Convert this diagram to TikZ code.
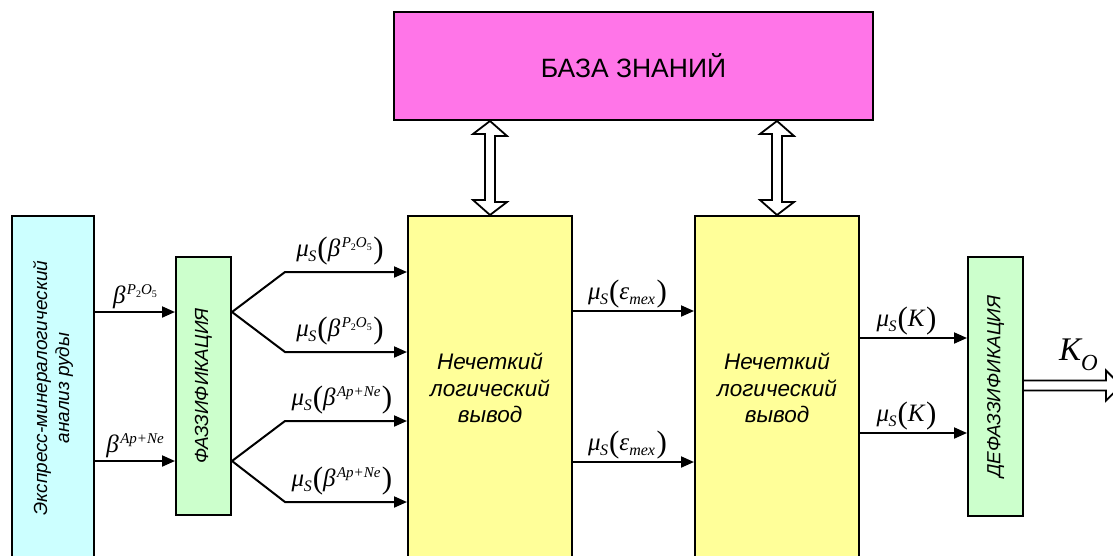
\documentclass[tikz,border=0pt]{standalone}
\usepackage{fontspec}
\setmainfont{Liberation Sans}
\newfontfamily\tms{Liberation Serif}
\usetikzlibrary{arrows.meta}
\definecolor{cyanbox}{HTML}{CCFFFF}
\definecolor{greenbox}{HTML}{CCFFCC}
\definecolor{yelbox}{HTML}{FFFF99}
\definecolor{kbbox}{HTML}{FF75E8}
\newcommand\sz[1]{\fontsize{#1}{#1}\selectfont}
\newcommand\mus{μ\kern-0.5pt\raisebox{-5pt}{\sz{16}S}}
\newcommand\lpar{\kern1pt\raisebox{-2.5pt}{\sz{31}\upshape(}}
\newcommand\rpar{\kern1.5pt\raisebox{-2.5pt}{\sz{31}\upshape)}}
\newcommand\bP{β\kern1.5pt\raisebox{9pt}{\sz{15}P\raisebox{-3pt}{\sz{10}\upshape 2}O\raisebox{-3pt}{\sz{10}\upshape 5}}}
\newcommand\bA{β\kern1.5pt\raisebox{9pt}{\sz{15}Ap+Ne}}
\newcommand\eps{ε\raisebox{-5pt}{\sz{16}mex}}
\begin{document}
\begin{tikzpicture}[x=1pt,y=-1pt,
  box/.style={draw, line width=2pt, inner sep=0pt},
  vtext/.style={rotate=90, align=center, font=\itshape\fontsize{19}{22}\selectfont},
  ytext/.style={align=center, font=\itshape\fontsize{22.5}{26.5}\selectfont},
  arr/.style={line width=2pt, -{Triangle[length=13pt,width=11pt]}},
  lbl/.style={font=\tms\itshape\sz{25}, inner sep=1.5pt, above},
  dbl/.style={line width=1.8pt, fill=white, line join=miter}]
\useasboundingbox (0,0) rectangle (1113,555);
% boxes
\node[box, fill=cyanbox, minimum width=82pt, minimum height=344pt] (exp) at (53,388) {};
\node[vtext] (expt) at (exp.center) {Экспресс-минералогический\\анализ руды};
\node[box, fill=greenbox, minimum width=55pt, minimum height=258pt] (f1) at (203.5,386) {};
\node[vtext] (f1t) at (f1.center) {ФАЗЗИФИКАЦИЯ};
\node[box, fill=kbbox, minimum width=479pt, minimum height=108pt, font=\sz{26.5}] (kb) at (633.5,66) {БАЗА ЗНАНИЙ};
\node[box, fill=yelbox, minimum width=164pt, minimum height=344pt] (y1) at (490,388) {};
\node[ytext] (y1t) at (y1.center) {Нечеткий\\логический\\вывод};
\node[box, fill=yelbox, minimum width=164pt, minimum height=344pt] (y2) at (777,388) {};
\node[ytext] (y2t) at (y2.center) {Нечеткий\\логический\\вывод};
\node[box, fill=greenbox, minimum width=55pt, minimum height=259pt] (f2) at (995.5,386.5) {};
\node[vtext] (f2t) at (f2.center) {ДЕФАЗЗИФИКАЦИЯ};
% row coordinates
\coordinate (r1) at (0,312);
\coordinate (r2) at (0,461);
\coordinate (fa) at (285,272);
\coordinate (fb) at (285,352);
\coordinate (fc) at (285,421);
\coordinate (fd) at (285,502);
\coordinate (m1) at (0,311);
\coordinate (m2) at (0,462);
\coordinate (k1) at (0,338);
\coordinate (k2) at (0,433);
% inputs
\draw[arr] (exp.east |- r1) -- node[lbl, yshift=1pt]{\bP} (f1.west |- r1);
\draw[arr] (exp.east |- r2) -- node[lbl, yshift=1pt]{\bA} (f1.west |- r2);
% forks
\draw[arr] (f1.east |- r1) -- (fa) -- node[lbl, xshift=-6pt, yshift=4pt]{\mus\lpar\bP\rpar} (y1.west |- fa);
\draw[arr] (f1.east |- r1) -- (fb) -- node[lbl, xshift=-6pt, yshift=4pt]{\mus\lpar\bP\rpar} (y1.west |- fb);
\draw[arr] (f1.east |- r2) -- (fc) -- node[lbl, xshift=-4pt, yshift=4pt]{\mus\lpar\bA\rpar} (y1.west |- fc);
\draw[arr] (f1.east |- r2) -- (fd) -- node[lbl, xshift=-4pt, yshift=4pt]{\mus\lpar\bA\rpar} (y1.west |- fd);
% middle
\draw[arr] (y1.east |- m1) -- node[lbl, xshift=-6pt]{\mus\lpar\eps\rpar} (y2.west |- m1);
\draw[arr] (y1.east |- m2) -- node[lbl, xshift=-6pt]{\mus\lpar\eps\rpar} (y2.west |- m2);
% right
\draw[arr] (y2.east |- k1) -- node[lbl, xshift=-7pt]{\mus\lpar K\rpar} (f2.west |- k1);
\draw[arr] (y2.east |- k2) -- node[lbl, xshift=-7pt]{\mus\lpar K\rpar} (f2.west |- k2);
% knowledge base double arrows
\coordinate (d1) at (y1.north |- kb.south);
\coordinate (d2) at (y2.north |- kb.south);
\draw[dbl] (d1) -- ++(17,15) -- ++(-12,0) -- ++(0,66) -- ++(12,0) -- (y1.north) -- ++(-17,-15) -- ++(12,0) -- ++(0,-66) -- ++(-12,0) -- cycle;
\draw[dbl] (d2) -- ++(17,15) -- ++(-12,0) -- ++(0,66) -- ++(12,0) -- (y2.north) -- ++(-17,-15) -- ++(12,0) -- ++(0,-66) -- ++(-12,0) -- cycle;
% output
\draw[dbl] (f2.east) ++(0,-6) -- ++(82,0) -- ++(0,-10) -- ++(15,15) -- ++(-15,15) -- ++(0,-10) -- ++(-82,0);
\node[font=\tms\itshape\sz{33}, anchor=base west, inner sep=0pt] (ko) at (1059,360) {K\raisebox{-10pt}{\sz{23}O}};
\end{tikzpicture}
\end{document}
